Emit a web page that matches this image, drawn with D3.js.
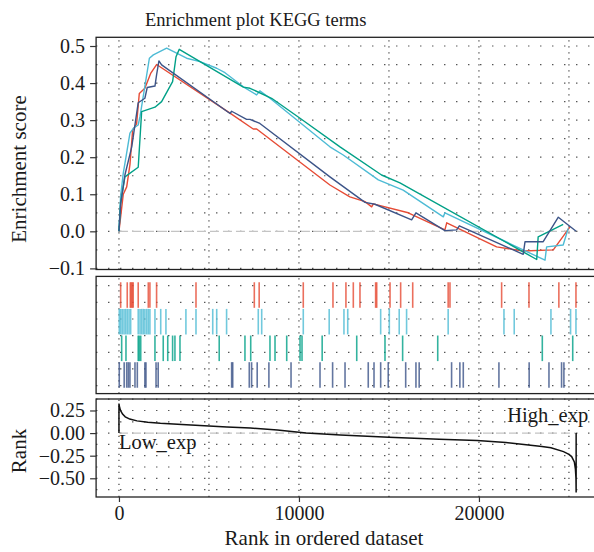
<!DOCTYPE html>
<html>
<head>
<meta charset="utf-8">
<title>Enrichment plot KEGG terms</title>
<script src="https://cdn.jsdelivr.net/npm/d3@7"></script>
<style>
  body { margin: 0; background: #fff; }
  #chart text { font-family: "Liberation Serif", "DejaVu Serif", serif; fill: #1a1a1a; }
  #chart .tick line { stroke: #333; stroke-width: 1.2; }
  #chart .tick text { font-size: 20px; }
  #chart .domain { display: none; }
</style>
</head>
<body>
<svg id="chart"></svg>
<script>
// ---- data ----
var nGenes = 25400;
var setColors = ["#E64B35", "#4DBBD5", "#00A087", "#3C5488"];

// running enrichment score, one pair of arrays per gene set
var redRank  = [0, 240, 430, 610, 760, 980, 1130, 1440, 1760, 2090, 6170, 7460, 7650, 11720, 12830, 13670, 14040, 14130, 16070, 18110, 18210, 20980, 22460, 24130, 25060];
var redES    = [0, 0.10, 0.12, 0.18, 0.273, 0.29, 0.372, 0.386, 0.426, 0.45, 0.319, 0.276, 0.276, 0.125, 0.093, 0.08, 0.066, 0.074, 0.05, 0.004, 0.023, -0.042, -0.053, -0.05, 0.012];
var cyanRank = [0, 90, 240, 390, 610, 800, 1070, 1170, 1690, 1910, 2650, 3760, 4500, 5430, 5890, 6910, 7650, 7830, 8390, 11720, 12460, 14410, 15790, 18020, 18110, 23670, 23760, 24680, 24960];
var cyanES   = [0, 0.094, 0.157, 0.2, 0.265, 0.278, 0.287, 0.31, 0.467, 0.476, 0.494, 0.467, 0.458, 0.44, 0.428, 0.39, 0.368, 0.379, 0.359, 0.228, 0.206, 0.139, 0.111, 0.039, 0.05, -0.078, -0.042, -0.037, 0.008];
var greenRank = [0, 90, 330, 1070, 1260, 2000, 2370, 2980, 3170, 3350, 6910, 7280, 8480, 10060, 12280, 14590, 15610, 23210, 23290, 24680];
var greenES   = [0, 0.076, 0.147, 0.173, 0.323, 0.335, 0.35, 0.404, 0.471, 0.491, 0.389, 0.386, 0.359, 0.305, 0.228, 0.152, 0.131, -0.076, -0.015, 0.019];
var navyRank = [0, 90, 330, 710, 1070, 1440, 1570, 2000, 2090, 2220, 2370, 6170, 6260, 7090, 7280, 7830, 11720, 13670, 14220, 16260, 16500, 18110, 18760, 18910, 22460, 22560, 23570, 24410, 25400];
var navyES   = [0, 0.071, 0.152, 0.228, 0.347, 0.359, 0.388, 0.392, 0.422, 0.46, 0.449, 0.318, 0.324, 0.302, 0.302, 0.291, 0.147, 0.078, 0.073, 0.031, 0.05, 0.002, 0.004, 0.015, -0.062, -0.028, -0.028, 0.038, 0];

// gene hit positions (middle panel)
var redHits   = [94, 460, 630, 680, 740, 790, 1070, 1630, 1720, 2090, 4280, 7520, 7790, 10240, 11890, 12610, 13020, 13390, 14260, 14320, 15060, 15650, 16320, 18290, 18390, 21260, 22780, 24440, 25390];
var cyanHits  = [17, 94, 180, 280, 370, 460, 560, 650, 1070, 1170, 1260, 1350, 1440, 1540, 1630, 1720, 2000, 2320, 2610, 3720, 4280, 5210, 5430, 5980, 7740, 7930, 10240, 11680, 12500, 12710, 14540, 15020, 15570, 15980, 18290, 21390, 21960, 24000, 25090, 25390];
var greenHits = [150, 390, 1070, 1130, 1210, 2000, 2460, 2710, 2980, 3110, 3390, 5570, 7000, 7320, 8390, 8670, 9320, 10060, 10170, 11290, 13210, 14780, 15760, 17710, 23520, 25210];
var navyHits  = [17, 290, 430, 520, 610, 890, 1020, 1440, 1500, 2060, 2180, 6260, 6320, 7240, 7370, 7680, 8330, 9560, 11170, 11870, 12560, 13850, 14170, 14540, 14960, 15930, 16500, 16680, 18480, 18940, 19130, 21110, 22790, 23890, 24590, 24720];

// ranked list metric (bottom panel)
var metricRank = [0, 0, 40, 100, 200, 350, 600, 1000, 1600, 2300, 3500, 4500, 6000, 7300, 8800, 10400, 12300, 15000, 17800, 19900, 21500, 22500, 23500, 24000, 24700, 25000, 25150, 25300, 25360, 25390, 25400, 25400];
var metricVal  = [0, 0.326, 0.28, 0.245, 0.21, 0.18, 0.155, 0.135, 0.12, 0.108, 0.094, 0.084, 0.068, 0.055, 0.035, 0.0, -0.02, -0.045, -0.068, -0.083, -0.105, -0.125, -0.148, -0.163, -0.205, -0.235, -0.26, -0.32, -0.40, -0.50, -0.656, 0];

var xTicks = [0, 10000, 20000];
var xGrid = [0, 5000, 10000, 15000, 20000, 25000];
var esTicks = [0.5, 0.4, 0.3, 0.2, 0.1, 0.0, -0.1];
var esGrid = d3.range(-0.1, 0.51, 0.05);
var midGrid = [0.15, 0.775, 1.4, 2.025, 2.65, 3.275, 3.9];
var metricTicks = [0.25, 0, -0.25, -0.5];
var metricGrid = [0.375, 0.25, 0.125, 0, -0.125, -0.25, -0.375, -0.5, -0.625];

var serif = "'Liberation Serif', 'DejaVu Serif', serif";

// ---- layout ----
var width = 594, height = 552;
var svg = d3.select("#chart").attr("width", width).attr("height", height);

var x = d3.scaleLinear().domain([-1270, 26670]).range([96.1, 599]);
var yES = d3.scaleLinear().domain([-0.103, 0.5235]).range([269.5, 37.3]);
var yMid = d3.scaleLinear().domain([-0.2, 4.2]).range([276.4, 393.6]);
var yRank = d3.scaleLinear().domain([-0.707, 0.377]).range([497, 399]);

var panels = [
  { y: yES, grid: esGrid },
  { y: yMid, grid: midGrid },
  { y: yRank, grid: metricGrid }
];

// grid dots
panels.forEach(function (p) {
  var g = svg.append("g");
  var top = d3.min(p.y.range()), bottom = d3.max(p.y.range());
  g.selectAll("line.h").data(p.grid).enter().append("line")
    .attr("x1", x.range()[0]).attr("x2", x.range()[1])
    .attr("y1", function (d) { return p.y(d); })
    .attr("y2", function (d) { return p.y(d); })
    .attr("stroke", "#444").attr("stroke-width", 1.2)
    .attr("stroke-dasharray", "1.3,10.7");
  g.selectAll("line.v").data(xGrid).enter().append("line")
    .attr("x1", function (d) { return x(d); })
    .attr("x2", function (d) { return x(d); })
    .attr("y1", bottom).attr("y2", top)
    .attr("stroke", "#444").attr("stroke-width", 1.2)
    .attr("stroke-dasharray", "1.3,4.7");
});

// zero reference lines
[yES, yRank].forEach(function (yy) {
  svg.append("line")
    .attr("x1", x(0)).attr("x2", x(nGenes))
    .attr("y1", yy(0)).attr("y2", yy(0))
    .attr("stroke", "#c4c4c4").attr("stroke-width", 1.3)
    .attr("stroke-dasharray", "9,4");
});

// running ES curves
var esSets = [[redRank, redES], [cyanRank, cyanES], [greenRank, greenES], [navyRank, navyES]];
var esLine = d3.line()
  .x(function (d) { return x(d[0]); })
  .y(function (d) { return yES(d[1]); });
esSets.forEach(function (s, i) {
  svg.append("path")
    .datum(d3.zip(s[0], s[1]))
    .attr("d", esLine)
    .attr("fill", "none")
    .attr("stroke", setColors[i])
    .attr("stroke-width", 1.4)
    .attr("stroke-linejoin", "round");
});

// gene hits
var hitSets = [redHits, cyanHits, greenHits, navyHits];
hitSets.forEach(function (hits, i) {
  svg.append("g").selectAll("line").data(hits).enter().append("line")
    .attr("x1", function (d) { return x(d); })
    .attr("x2", function (d) { return x(d); })
    .attr("y1", yMid(i + 0.02))
    .attr("y2", yMid(i + 0.98))
    .attr("stroke", setColors[i])
    .attr("stroke-width", 1.6)
    .attr("stroke-opacity", 0.8);
});

// ranked metric
var metricLine = d3.line()
  .x(function (d) { return x(d[0]); })
  .y(function (d) { return yRank(d[1]); });
svg.append("path")
  .datum(d3.zip(metricRank, metricVal))
  .attr("d", metricLine)
  .attr("fill", "none")
  .attr("stroke", "#111")
  .attr("stroke-width", 1.5);

svg.append("text")
  .attr("x", x(0)).attr("y", yRank(0) + 16)
  .style("font-size", "20.5px")
  .text("Low_exp");
svg.append("text")
  .attr("x", x(nGenes) + 12).attr("y", yRank(0) - 11)
  .attr("text-anchor", "end")
  .style("font-size", "20.5px")
  .text("High_exp");

// frames
panels.forEach(function (p) {
  var top = d3.min(p.y.range()), bottom = d3.max(p.y.range());
  svg.append("rect")
    .attr("x", x.range()[0]).attr("y", top)
    .attr("width", x.range()[1] - x.range()[0])
    .attr("height", bottom - top)
    .attr("fill", "none")
    .attr("stroke", "#222")
    .attr("stroke-width", 1.3);
});

// axes
svg.append("g")
  .attr("transform", "translate(" + x.range()[0] + ",0)")
  .call(d3.axisLeft(yES).tickValues(esTicks).tickFormat(d3.format(".1f")).tickSize(6).tickPadding(5))
  .attr("font-family", serif);
svg.append("g")
  .attr("transform", "translate(" + x.range()[0] + ",0)")
  .call(d3.axisLeft(yRank).tickValues(metricTicks).tickFormat(d3.format(".2f")).tickSize(6).tickPadding(5))
  .attr("font-family", serif);
svg.append("g")
  .attr("transform", "translate(0," + yRank.range()[0] + ")")
  .call(d3.axisBottom(x).tickValues(xTicks).tickFormat(d3.format("d")).tickSize(5).tickPadding(4))
  .attr("font-family", serif);

// titles
svg.append("text")
  .attr("x", 145).attr("y", 25.5)
  .style("font-size", "18.5px")
  .text("Enrichment plot KEGG terms");
svg.append("text")
  .attr("transform", "translate(26,169) rotate(-90)")
  .attr("text-anchor", "middle")
  .style("font-size", "21px")
  .text("Enrichment score");
svg.append("text")
  .attr("transform", "translate(26,451) rotate(-90)")
  .attr("text-anchor", "middle")
  .style("font-size", "21px")
  .text("Rank");
svg.append("text")
  .attr("x", 324).attr("y", 545)
  .attr("text-anchor", "middle")
  .style("font-size", "21px")
  .text("Rank in ordered dataset");
</script>
</body>
</html>
